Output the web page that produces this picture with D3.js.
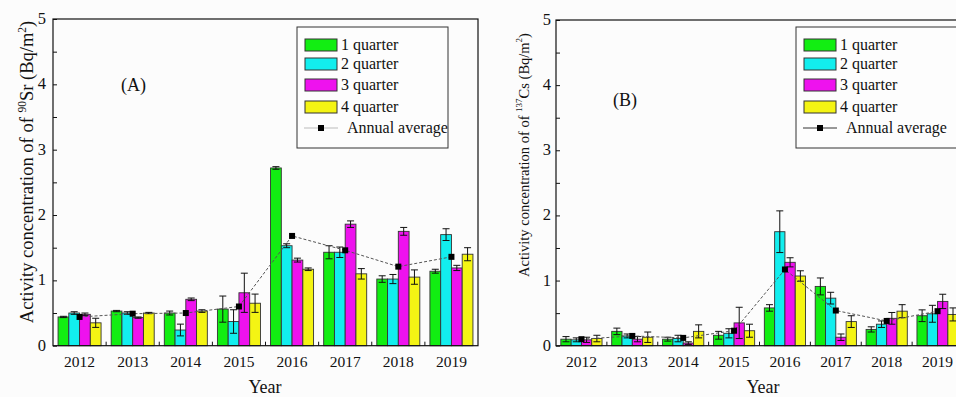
<!DOCTYPE html>
<html>
<head>
<meta charset="utf-8">
<script src="https://cdn.jsdelivr.net/npm/d3@7"></script>
<style>
  html, body { margin: 0; padding: 0; background: #fcfcfc; }
  svg { display: block; }
  text { font-family: "Liberation Serif", "Times New Roman", serif; fill: #111; }
</style>
</head>
<body>
<svg id="chart" width="956" height="397"></svg>
<script>
// ---- data ----
const years = ["2012", "2013", "2014", "2015", "2016", "2017", "2018", "2019"];
const quarters = ["1 quarter", "2 quarter", "3 quarter", "4 quarter"];
const yTicks = [0, 1, 2, 3, 4, 5];

// 90Sr deposition, Bq/m2
const srQ1 = [0.44, 0.53, 0.50, 0.56, 2.72, 1.43, 1.02, 1.14];
const srQ2 = [0.50, 0.50, 0.24, 0.37, 1.53, 1.43, 1.02, 1.70];
const srQ3 = [0.48, 0.43, 0.71, 0.81, 1.31, 1.86, 1.75, 1.19];
const srQ4 = [0.35, 0.50, 0.53, 0.65, 1.17, 1.10, 1.05, 1.40];
const srErr1 = [0.01, 0.01, 0.03, 0.20, 0.02, 0.10, 0.05, 0.03];
const srErr2 = [0.02, 0.02, 0.09, 0.18, 0.03, 0.08, 0.07, 0.09];
const srErr3 = [0.02, 0.01, 0.02, 0.30, 0.03, 0.05, 0.06, 0.04];
const srErr4 = [0.07, 0.01, 0.02, 0.14, 0.02, 0.08, 0.11, 0.10];
const srAvg = [0.44, 0.49, 0.50, 0.60, 1.68, 1.46, 1.21, 1.36];

// 137Cs deposition, Bq/m2
const csQ1 = [0.10, 0.22, 0.10, 0.16, 0.58, 0.91, 0.25, 0.46];
const csQ2 = [0.09, 0.15, 0.11, 0.19, 1.75, 0.73, 0.33, 0.49];
const csQ3 = [0.09, 0.10, 0.04, 0.35, 1.28, 0.13, 0.42, 0.68];
const csQ4 = [0.11, 0.13, 0.22, 0.23, 1.07, 0.37, 0.53, 0.48];
const csErr1 = [0.04, 0.05, 0.03, 0.06, 0.05, 0.13, 0.04, 0.09];
const csErr2 = [0.03, 0.03, 0.05, 0.07, 0.32, 0.09, 0.05, 0.13];
const csErr3 = [0.04, 0.04, 0.02, 0.24, 0.07, 0.05, 0.09, 0.11];
const csErr4 = [0.05, 0.08, 0.10, 0.10, 0.08, 0.09, 0.10, 0.10];
const csAvg = [0.10, 0.15, 0.12, 0.23, 1.17, 0.54, 0.38, 0.53];

const colors = ["#12ee12", "#12eeee", "#ee12ee", "#f4f414"];

const svg = d3.select("#chart");

function drawPanel(cfg) {
  const g = svg.append("g");
  const x = d3.scaleBand().domain(years).range([cfg.left, cfg.right]);
  const xq = d3.scaleBand().domain(quarters).range([0, x.bandwidth()]).paddingOuter(0.47);
  const y = d3.scaleLinear().domain([0, 5]).range([cfg.bottom, cfg.top]);

  const series = quarters.map((q, i) => ({ q, i, vals: cfg.values[i], errs: cfg.errors[i] }));

  // bars
  series.forEach(s => {
    const bars = g.append("g");
    years.forEach((yr, j) => {
      const v = s.vals[j];
      bars.append("rect")
        .attr("x", x(yr) + xq(s.q))
        .attr("y", y(v))
        .attr("width", xq.bandwidth())
        .attr("height", y(0) - y(v))
        .attr("fill", colors[s.i])
        .attr("stroke", "#333")
        .attr("stroke-width", 0.9);
    });
  });

  // error bars
  series.forEach(s => {
    years.forEach((yr, j) => {
      const cx = x(yr) + xq(s.q) + xq.bandwidth() / 2;
      const v = s.vals[j], e = s.errs[j];
      const eg = g.append("g").attr("stroke", "#111").attr("stroke-width", 1);
      eg.append("line").attr("x1", cx).attr("x2", cx).attr("y1", y(v - e)).attr("y2", y(v + e));
      [v - e, v + e].forEach(t => {
        eg.append("line").attr("x1", cx - 3.5).attr("x2", cx + 3.5).attr("y1", y(t)).attr("y2", y(t));
      });
    });
  });

  // annual average line + markers
  const line = d3.line()
    .x((d, j) => x(years[j]) + x.bandwidth() / 2)
    .y(d => y(d));
  g.append("path")
    .datum(cfg.avg)
    .attr("d", line)
    .attr("fill", "none")
    .attr("stroke", "#555")
    .attr("stroke-width", 1)
    .attr("stroke-dasharray", "3,2");
  g.selectAll(null).data(cfg.avg).enter().append("rect")
    .attr("x", (d, j) => x(years[j]) + x.bandwidth() / 2 - 3)
    .attr("y", d => y(d) - 3)
    .attr("width", 6).attr("height", 6)
    .attr("fill", "#000");

  // frame
  g.append("rect")
    .attr("x", cfg.left).attr("y", cfg.top)
    .attr("width", cfg.right - cfg.left).attr("height", cfg.bottom - cfg.top)
    .attr("fill", "none").attr("stroke", "#111").attr("stroke-width", 1.2);

  // y axis (inward ticks every 0.5)
  const yAxis = d3.axisLeft(y).tickValues(d3.range(0, 5.01, 0.5)).tickSize(-4).tickPadding(0)
    .tickFormat(() => "");
  const ya = g.append("g").attr("transform", `translate(${cfg.left},0)`).call(yAxis);
  ya.select(".domain").remove();
  ya.selectAll("line").attr("stroke", "#111");
  g.selectAll(null).data(yTicks).enter().append("text")
    .attr("x", cfg.left - cfg.yLabelGap)
    .attr("y", d => y(d) + 5)
    .attr("text-anchor", "end")
    .attr("font-size", 16.5)
    .text(d => d);

  // x axis: inward ticks at group boundaries, labels at group centres
  const bounds = years.slice(1).map(yr => x(yr));
  g.selectAll(null).data(bounds).enter().append("line")
    .attr("x1", d => d).attr("x2", d => d)
    .attr("y1", cfg.bottom).attr("y2", cfg.bottom - 4)
    .attr("stroke", "#111");
  g.selectAll(null).data(years).enter().append("text")
    .attr("x", d => x(d) + x.bandwidth() / 2)
    .attr("y", cfg.bottom + 21)
    .attr("text-anchor", "middle")
    .attr("font-size", 15.5)
    .text(d => d);

  g.append("text")
    .attr("x", cfg.yearX).attr("y", 393)
    .attr("text-anchor", "middle")
    .attr("font-size", 18)
    .text("Year");

  // y title
  const yt = g.append("text")
    .attr("transform", `translate(${cfg.yTitleX},${cfg.yTitleY}) rotate(-90)`)
    .attr("text-anchor", "middle")
    .attr("font-size", cfg.yTitleSize);
  yt.append("tspan").text(cfg.yTitle[0]);
  yt.append("tspan").attr("dy", -7).attr("font-size", cfg.yTitleSize * 0.62).text(cfg.yTitle[1]);
  yt.append("tspan").attr("dy", 7).text(cfg.yTitle[2]);
  yt.append("tspan").attr("dy", -7).attr("font-size", cfg.yTitleSize * 0.62).text("2");
  yt.append("tspan").attr("dy", 7).text(")");

  // panel tag
  g.append("text")
    .attr("x", cfg.tagX).attr("y", cfg.tagY)
    .attr("font-size", 18)
    .text(cfg.tag);

  // legend
  const lg = g.append("g");
  lg.append("rect")
    .attr("x", cfg.legX).attr("y", 27)
    .attr("width", cfg.legW).attr("height", 121)
    .attr("fill", "#fdfdfd").attr("stroke", "#333").attr("stroke-width", 1);
  const rowY = [45, 64, 85, 107, 128];
  quarters.forEach((q, i) => {
    lg.append("rect")
      .attr("x", cfg.legX + 8).attr("y", rowY[i] - 6)
      .attr("width", 32).attr("height", 12)
      .attr("fill", colors[i]).attr("stroke", "#333").attr("stroke-width", 1);
    lg.append("text")
      .attr("x", cfg.legX + 44).attr("y", rowY[i] + 5)
      .attr("font-size", 16)
      .text(q);
  });
  lg.append("line")
    .attr("x1", cfg.legX + 7).attr("x2", cfg.legX + 41)
    .attr("y1", rowY[4]).attr("y2", rowY[4])
    .attr("stroke", cfg.legLine).attr("stroke-width", 1);
  lg.append("rect")
    .attr("x", cfg.legX + 21).attr("y", rowY[4] - 3)
    .attr("width", 6).attr("height", 6).attr("fill", "#000");
  lg.append("text")
    .attr("x", cfg.legX + 50).attr("y", rowY[4] + 5)
    .attr("font-size", 16)
    .text("Annual average");
}

drawPanel({
  left: 53, right: 478, top: 19, bottom: 345.7,
  values: [srQ1, srQ2, srQ3, srQ4],
  errors: [srErr1, srErr2, srErr3, srErr4],
  avg: srAvg,
  yLabelGap: 7,
  yearX: 265,
  yTitleX: 33, yTitleY: 172, yTitleSize: 18.5,
  yTitle: ["Activity  concentration of of ", "90", "Sr (Bq/m"],
  tag: "(A)", tagX: 121, tagY: 91,
  legX: 297, legW: 151, legLine: "#bbb"
});

drawPanel({
  left: 556, right: 963, top: 20, bottom: 345.7,
  values: [csQ1, csQ2, csQ3, csQ4],
  errors: [csErr1, csErr2, csErr3, csErr4],
  avg: csAvg,
  yLabelGap: 5,
  yearX: 763,
  yTitleX: 529, yTitleY: 155, yTitleSize: 14.5,
  yTitle: ["Activity concentration of  of ", "137", "Cs (Bq/m"],
  tag: "(B)", tagX: 613, tagY: 106,
  legX: 796, legW: 170, legLine: "#333"
});
</script>
</body>
</html>
